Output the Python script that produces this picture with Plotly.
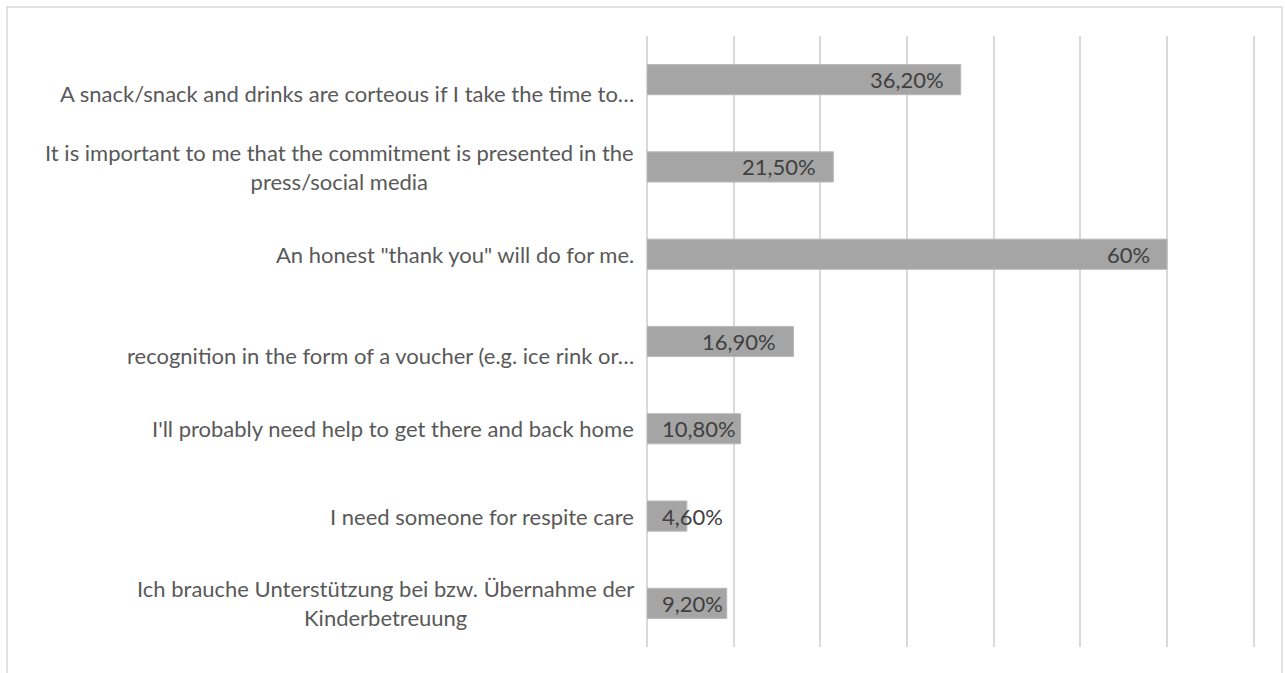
import plotly.graph_objects as go

categories = [
    "A snack/snack and drinks are corteous if I take the time to…",
    "It is important to me that the commitment is presented in the<br>press/social media",
    "An honest \"thank you\" will do for me.",
    "recognition in the form of a voucher (e.g. ice rink or…",
    "I'll probably need help to get there and back home",
    "I need someone for respite care",
    "Ich brauche Unterstützung bei bzw. Übernahme der<br>Kinderbetreuung",
]
values = [36.2, 21.5, 60, 16.9, 10.8, 4.6, 9.2]
value_labels = ["36,20%", "21,50%", "60%", "16,90%", "10,80%", "4,60%", "9,20%"]

FONT = "Lato"
LABEL_COLOR = "#595959"
VALUE_COLOR = "#404040"
GRID = "#d9d9d9"

fig = go.Figure()
fig.add_trace(go.Bar(
    x=values, y=categories, orientation="h",
    marker=dict(color="#a5a5a5", line=dict(color="#b8b8b8", width=1)),
    hoverinfo="skip",
))

annotations = []
for cat, v, lab in zip(categories, values, value_labels):
    # value labels: inside end; when bar is short, start from the bar base
    if v >= 12:
        annotations.append(dict(x=v, y=cat, xref="x", yref="y", text=lab,
                                showarrow=False, xanchor="right", xshift=-15,
                                font=dict(family=FONT, size=22, color=VALUE_COLOR)))
    else:
        annotations.append(dict(x=0, y=cat, xref="x", yref="y", text=lab,
                                showarrow=False, xanchor="left", xshift=13,
                                font=dict(family=FONT, size=22, color=VALUE_COLOR)))
    # category labels
    annotations.append(dict(x=0, y=cat, xref="x", yref="y", text=cat,
                            showarrow=False, xanchor="right", align="center",
                            xshift=-11, yshift=(-14 if cat.endswith("…") else 0),
                            font=dict(family=FONT, size=22, color=LABEL_COLOR)))

# outer chart border (paper coordinates relative to plot area)
L, R, T, B = 647, 27, 36, 26
W, H = 1285, 673
pw, ph = W - L - R, H - T - B
def px(xp): return (xp - L) / pw
def py(yp): return (H - B - yp) / ph

shapes = [dict(type="path", xref="paper", yref="paper",
               path=f"M {px(7)} {py(690)} L {px(7)} {py(7)} L {px(1282)} {py(7)} L {px(1282)} {py(690)}",
               line=dict(color=GRID, width=1.5))]

fig.update_layout(
    width=W, height=H,
    margin=dict(l=L, r=R, t=T, b=B),
    paper_bgcolor="white", plot_bgcolor="white",
    showlegend=False,
    bargap=0.655,
    annotations=annotations,
    shapes=shapes,
    xaxis=dict(range=[0, 70.5], tickvals=[0, 10, 20, 30, 40, 50, 60, 70],
               showgrid=True, gridcolor=GRID, gridwidth=2,
               showticklabels=False, zeroline=True, zerolinecolor=GRID, zerolinewidth=2,
               showline=False, fixedrange=True),
    yaxis=dict(autorange="reversed", showticklabels=False, showgrid=False,
               zeroline=False, showline=False, fixedrange=True),
)

fig.write_html("out.html")
